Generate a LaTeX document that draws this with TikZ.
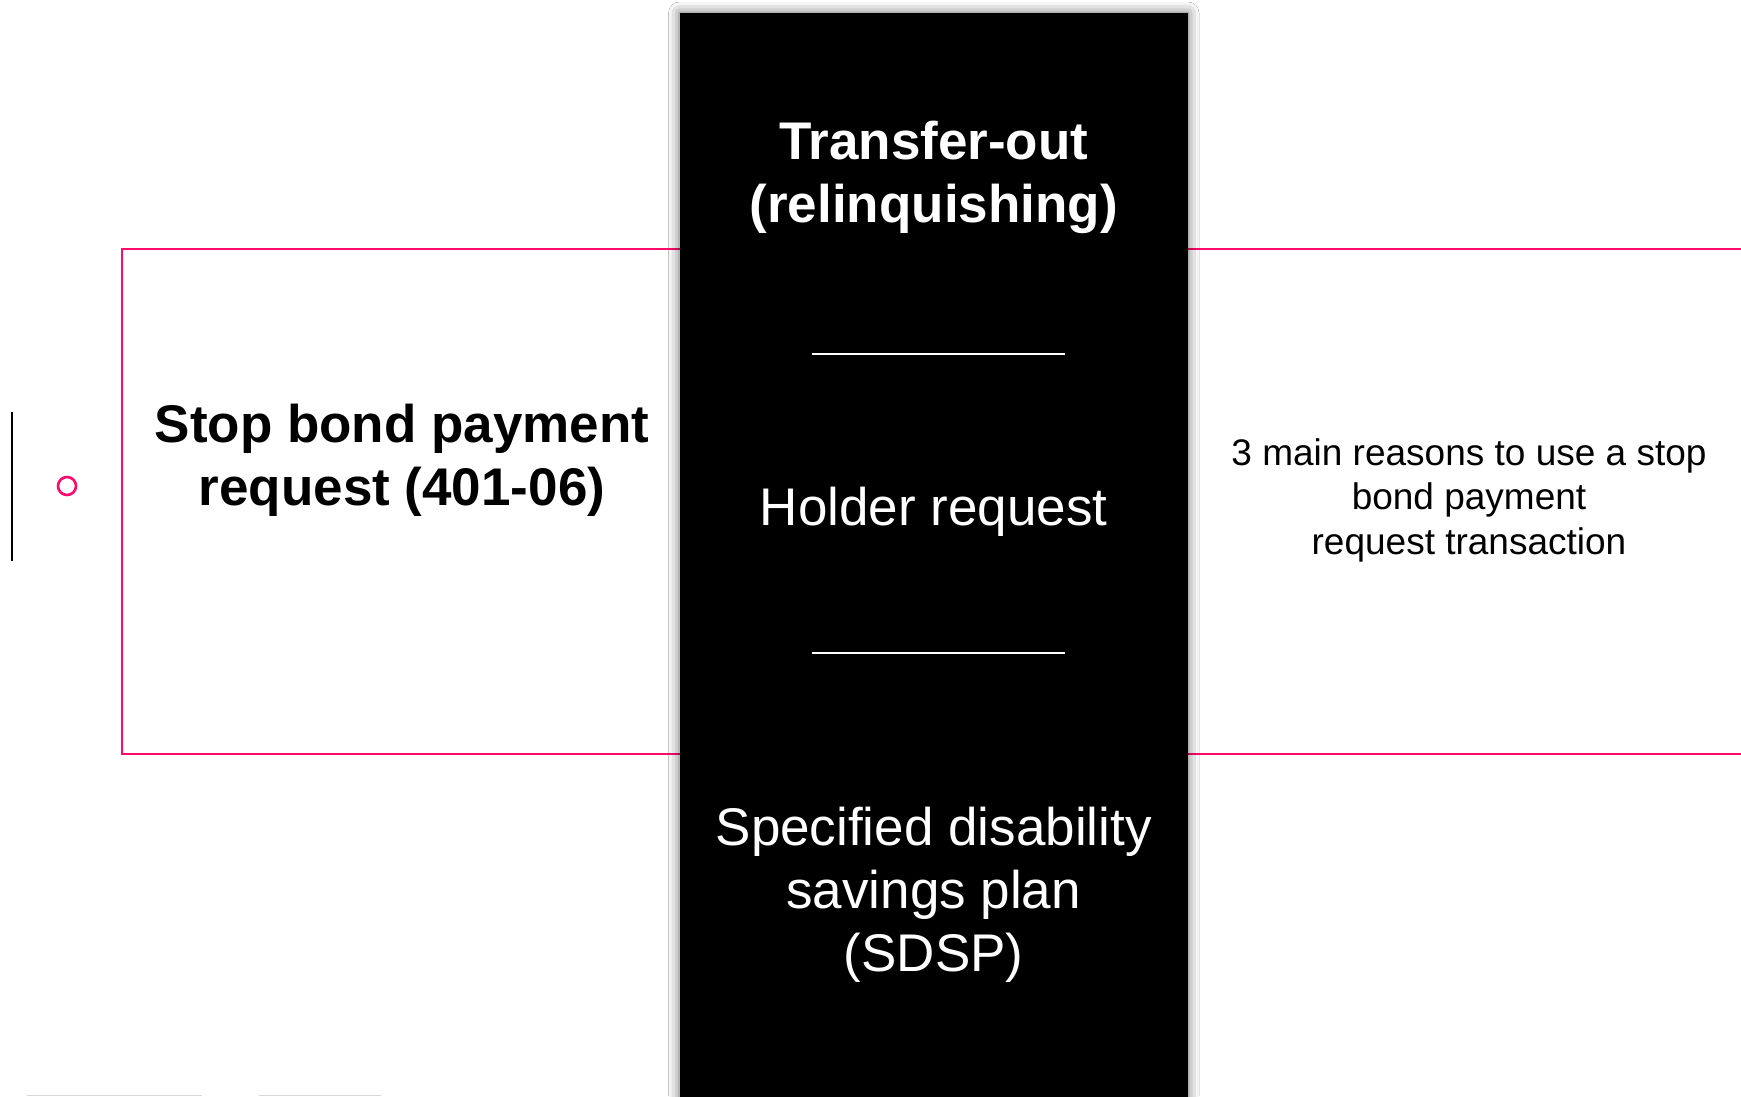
\documentclass[tikz,border=0pt]{standalone}
\usepackage{fontspec}
\setmainfont{Liberation Sans}
\usetikzlibrary{shadows.blur}
\definecolor{accent}{HTML}{FF0A6C}
\begin{document}
\begin{tikzpicture}[x=1pt,y=-1pt,
  big/.style={font=\fontsize{53}{63}\selectfont, align=center, inner sep=0pt, anchor=base},
  small/.style={font=\fontsize{37}{44.5}\selectfont, align=center, inner sep=0pt, anchor=base},
  rule/.style={draw=white, line width=2pt},
  frame/.style={draw=accent, line width=2.8pt}]
\useasboundingbox (0,0) rectangle (1741,1096);
\fill[white] (0,0) rectangle (1741,1096);

% pink frame running behind the column
\draw[frame] (1760,249) -- (122,249) -- (122,754) -- (1760,754);

% small marker at the left
\draw[black, line width=2.4pt] (12,412) -- (12,561);
\draw[accent, line width=2.6pt] (67,486) circle (9);

% faint stubs along the bottom edge
\draw[black!15, line width=1.5pt] (27,1095.3) -- (202,1095.3);
\draw[black!15, line width=1.5pt] (259,1095.3) -- (381,1095.3);

% central black column with soft shadow
\fill[black, blur shadow={shadow xshift=0pt, shadow yshift=0pt, shadow blur radius=11pt, shadow opacity=60}]
  (679.5,13) rectangle (1188,1120);

\draw[rule] (812,354) -- (1065,354);
\draw[rule] (812,653) -- (1065,653);

% multi-line nodes are placed by the baseline of their last line
\node[big, text=white, font=\fontsize{53}{63}\selectfont\bfseries] (transfer) at (933.7,222) {Transfer-out\\(relinquishing)};
\node[big, text=white] (holder) at (933.7,525) {Holder request};
\node[big, text=white] (sdsp) at (933.7,971) {Specified disability\\savings plan\\(SDSP)};

\node[big, text=black, font=\fontsize{53}{63}\selectfont\bfseries] (stop) at (402,505) {Stop bond payment\\request (401-06)};

\node[small, text=black] (reasons) at (1469,554) {3 main reasons to use a stop\\bond payment\\request transaction};
\end{tikzpicture}
\end{document}
